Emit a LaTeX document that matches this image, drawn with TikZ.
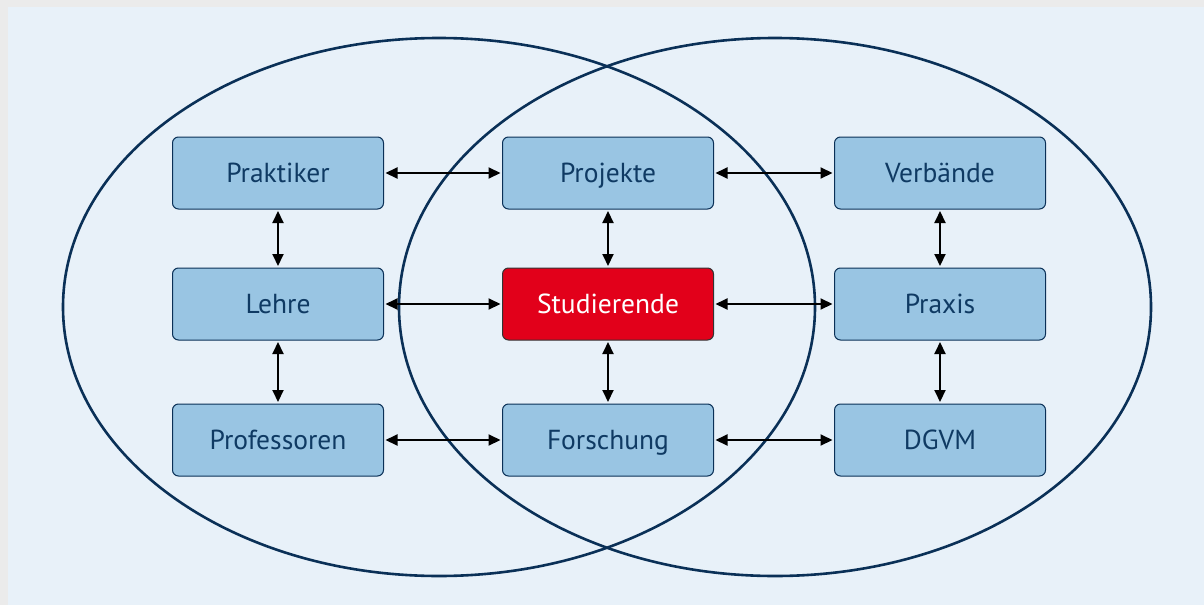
\documentclass[tikz,border=0pt]{standalone}
\usepackage{fontspec}
\setmainfont{PT Sans}
\usetikzlibrary{arrows.meta}

\definecolor{pagegrey}{HTML}{EBEBEB}
\definecolor{paneblue}{HTML}{E8F1F9}
\definecolor{navy}{HTML}{0A3057}
\definecolor{navytext}{HTML}{0F3A63}
\definecolor{boxblue}{HTML}{99C5E3}
\definecolor{unired}{HTML}{E2001A}

\tikzset{
  box/.style={draw=navy, line width=1pt, fill=boxblue, rounded corners=6pt,
    minimum width=211pt, minimum height=72pt, text=navytext,
    text height=20pt, text depth=2pt,
    font=\fontsize{27.5}{32}\selectfont, outer sep=2pt},
  hot/.style={box, fill=unired, draw=black!80, text=white},
  link/.style={{Triangle[length=12pt,width=11pt]}-{Triangle[length=12pt,width=11pt]}, line width=2pt},
  ring/.style={draw=navy, line width=2.6pt}
}

\begin{document}
\begin{tikzpicture}[x=1pt, y=-1pt]
  % page and panel
  \fill[pagegrey] (0,0) rectangle (1204,605);
  \fill[paneblue] (8,7) rectangle (1204,605);
  \useasboundingbox (0,0) rectangle (1204,605);

  % the two rings
  \draw[ring] (439,307) ellipse [x radius=376pt, y radius=269pt];
  \draw[ring] (775,307) ellipse [x radius=376pt, y radius=269pt];

  % boxes, left column
  \node[box] (prak) at (278,173) {Praktiker};
  \node[box] (lehre) at (278,304) {Lehre};
  \node[box] (prof) at (278,440) {Professoren};

  % boxes, middle column
  \node[box] (proj) at (608,173) {Projekte};
  \node[hot] (stud) at (608,304) {Studierende};
  \node[box] (forsch) at (608,440) {Forschung};

  % boxes, right column
  \node[box] (verb) at (940,173) {Verbände};
  \node[box] (praxis) at (940,304) {Praxis};
  \node[box] (dgvm) at (940,440) {DGVM};

  % links across
  \draw[link] (prak) -- (proj);
  \draw[link] (proj) -- (verb);
  \draw[link] (lehre) -- (stud);
  \draw[link] (stud) -- (praxis);
  \draw[link] (prof) -- (forsch);
  \draw[link] (forsch) -- (dgvm);

  % links down
  \draw[link] (prak) -- (lehre);
  \draw[link] (lehre) -- (prof);
  \draw[link] (proj) -- (stud);
  \draw[link] (stud) -- (forsch);
  \draw[link] (verb) -- (praxis);
  \draw[link] (praxis) -- (dgvm);
\end{tikzpicture}
\end{document}
